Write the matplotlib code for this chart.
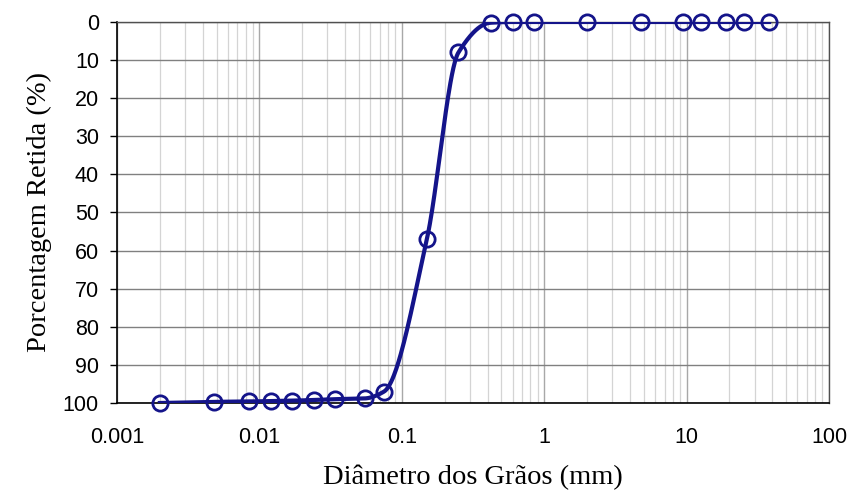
import numpy as np
import matplotlib
matplotlib.use("Agg")
import matplotlib.pyplot as plt
from matplotlib.ticker import FixedLocator, FixedFormatter, LogLocator, NullFormatter

# Data
diameter_mm = [0.002, 0.0048, 0.0085, 0.012, 0.017, 0.024, 0.034, 0.055, 0.075,
               0.15, 0.25, 0.42, 0.6, 0.85, 2.0, 4.8, 9.5, 12.7, 19.0, 25.4, 38.0]
pct_retained = [100.0, 99.7, 99.6, 99.5, 99.4, 99.2, 99.0, 98.8, 97.0,
                57.0, 8.0, 0.2, 0.0, 0.0, 0.0, 0.0, 0.0, 0.0, 0.0, 0.0, 0.0]
x_ticks = [0.001, 0.01, 0.1, 1, 10, 100]
x_tick_labels = ["0.001", "0.01", "0.1", "1", "10", "100"]
y_ticks = list(range(0, 101, 10))


def pchip(x, y, xn):
    x = np.asarray(x, float); y = np.asarray(y, float)
    h = np.diff(x); d = np.diff(y) / h
    n = len(x); m = np.zeros(n)
    for k in range(1, n - 1):
        if d[k - 1] * d[k] > 0:
            w1 = 2 * h[k] + h[k - 1]; w2 = h[k] + 2 * h[k - 1]
            m[k] = (w1 + w2) / (w1 / d[k - 1] + w2 / d[k])
    m[0] = d[0]; m[-1] = d[-1]
    idx = np.clip(np.searchsorted(x, xn) - 1, 0, n - 2)
    t = (xn - x[idx]) / h[idx]
    h00 = 2 * t**3 - 3 * t**2 + 1; h10 = t**3 - 2 * t**2 + t
    h01 = -2 * t**3 + 3 * t**2; h11 = t**3 - t**2
    return h00 * y[idx] + h10 * h[idx] * m[idx] + h01 * y[idx + 1] + h11 * h[idx] * m[idx + 1]


lx = np.log10(diameter_mm)
lxs = np.linspace(lx[0], lx[-1], 800)
ys = pchip(lx, pct_retained, lxs)

fig = plt.figure(figsize=(8.52, 4.94), dpi=100)
ax = fig.add_axes([0.1373, 0.1842, 0.8357, 0.7713])
color = "#14148a"
ax.plot(10**lxs, ys, color=color, lw=3.0, zorder=3)
ax.plot(diameter_mm, pct_retained, linestyle="none", marker="o", ms=11,
        mfc="none", mec=color, mew=2.0, zorder=4, clip_on=False)

ax.set_xscale("log")
ax.set_xlim(0.001, 100)
ax.set_ylim(100, 0)
ax.xaxis.set_major_locator(FixedLocator(x_ticks))
ax.xaxis.set_major_formatter(FixedFormatter(x_tick_labels))
ax.xaxis.set_minor_locator(LogLocator(base=10, subs=np.arange(2, 10)))
ax.xaxis.set_minor_formatter(NullFormatter())
ax.set_yticks(y_ticks)

ax.grid(which="major", axis="x", color="#a8a8a8", lw=1.0)
ax.grid(which="minor", axis="x", color="#d4d4d4", lw=0.9)
ax.grid(which="major", axis="y", color="#808080", lw=1.0)
ax.set_axisbelow(True)

for s in ["top", "right"]:
    ax.spines[s].set_color("#505050")
    ax.spines[s].set_linewidth(1.0)
for s in ["left", "bottom"]:
    ax.spines[s].set_color("black")
    ax.spines[s].set_linewidth(1.2)

ax.tick_params(axis="x", which="both", length=0, pad=17)
ax.tick_params(axis="y", which="major", length=5, width=1, direction="out", pad=8)
for lab in ax.get_xticklabels() + ax.get_yticklabels():
    lab.set_fontfamily("Liberation Sans")
    lab.set_fontsize(15.5)

ax.set_xlabel("Diâmetro dos Grãos (mm)", fontfamily="Liberation Serif", fontsize=20.5, labelpad=12)
ax.set_ylabel("Porcentagem Retida (%)", fontfamily="Liberation Serif", fontsize=20.5, labelpad=8)

fig.savefig("out.png", dpi=100)
